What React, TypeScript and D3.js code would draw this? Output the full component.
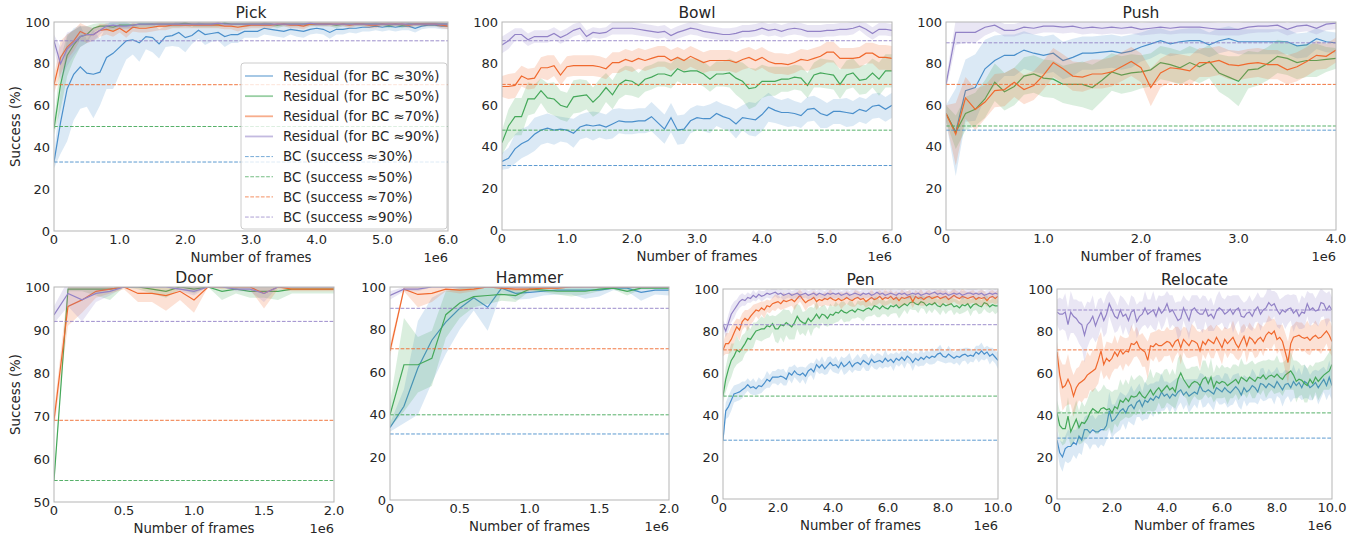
import React from "react";
import * as d3 from "d3";

// ---------------- DATA ----------------
const seriesLabels = [
  "Residual (for BC \u224830%)",
  "Residual (for BC \u224850%)",
  "Residual (for BC \u224870%)",
  "Residual (for BC \u224890%)",
];
const bcLabels = [
  "BC (success \u224830%)",
  "BC (success \u224850%)",
  "BC (success \u224870%)",
  "BC (success \u224890%)",
];

// Pick (0..6e6, step 1e5)
const pickBlue = [33,52,68,75,78.5,75.5,75,76,83,85,88,91,91.5,90,93,92.5,89.5,93,93.5,95,92.5,93.5,96,94,94.5,95,93,94,94,95.5,95.5,95.5,97,96.5,96,95.5,96.5,96,95.5,96.5,97,96.5,95,96.5,96.5,97,97,97.5,97.5,98,97.5,98,97.5,98,98,97,98,98.5,98.5,98,98];
const pickBlueStd = [3,15,25,22,20,16,21,16,15,17,13,9,7,9,6,7,7,5,5,7,7,4,4,5,4,4,5,4,4,3,3,3,3,3,3,3,2.5,3,3,2.5,2.5,2.5,3,2.5,2.5,2,2.5,2,2,2,2,2,2,2,2,2,1.5,1.5,1.5,1.5,1.5];
const pickGreen = [49,70,84,89,93,94,97,98,98,97.5,98.5,98.5,98.5,99,99,99,99,99,99,99,99.5,99,99,99,99,99,99.5,99,99,99,99,99,99,99,98.5,99,99,99,99,99,99,99,99,98.5,99,99,99,99,99,99,99,98.5,99,98.5,99,99,99,99,99,99,99];
const pickGreenStd = [3,12,10,7,5,4,2,1.5,1.5,2,1.5,1.5,1.5,1.5,1.5,1.5,1.5,1.5,1.5,1.5,1.5,1.5,1.5,1.5,1.5,1.5,1.5,1.5,1.5,1.5,1,1,1,1,1.5,1,1,1,1,1,1,1,1,1.5,1,1,1,1,1,1,1,1.5,1,1.5,1,1,1,1,1,1,1];
const pickOrange = [70,83,88,91,95.5,94,94,96,96.5,95.5,97,95,97.5,97,97,97.5,98,98,98.5,98.5,98.5,98.5,98.5,98.5,98.5,98.5,98,98,97.5,98,98.5,98.5,98.5,98.5,99,99,98.5,98.5,98,99,99,99,99,99,99,98.5,99,99,98.5,98.5,99,99,99,99,98.5,99,99,99,99,98.5,98];
const pickOrangeStd = [4,8,6,5,4,4,3,3,2.5,2.5,2,2.5,2,2,2,2,2,2,1.5,1.5,1.5,1.5,1.5,1.5,1.5,1.5,1.5,1.5,2,1.5,1.5,1.5,1.5,1.5,1,1,1.5,1.5,1.5,1,1,1,1,1,1,1.5,1,1,1.5,1.5,1,1,1,1,1.5,1,1,1,1,1.5,1.5];
const pickPurple = [91,80,87,90,93,94,94,96,98,98.5,98,98,98.5,99,99,99,99,99,99,99,99,99,99,99,99,99.5,99,99,99,99,99,99,99,99,99,99,99,99,99,99.5,99,99,99,99,99,99,99,99,99,99,99,99,99,99,99,99,99,99,99,99,99];
const pickPurpleStd = [3,8,8,6,5,4,3,2,1.5,1.5,1.5,1.5,1.5,1,1,1,1,1,1,1,1,1,1,1,1,1,1,1,1,1,1,1,1,1,1,1,1,1,1,1,1,1,1,1,1,1,1,1,1,1,1,1,1,1,1,1,1,1,1,1,1];
const pickBC = [33, 50, 70, 91];

// Bowl (0..6e6, step 1e5)
const bowlBlue = [33,34.5,39,41.5,43,46,48,49,48,48.5,48,46.5,49.5,50.5,50,50.5,49.5,51,52.5,52,52,52.5,52.5,54.5,51.5,48.5,54,48,48.5,52.5,54,53.5,53.5,56,54.5,53.5,51,54,53.5,53,55.5,59,57.5,56.5,56.5,56,55,58,58.5,56,55,57,57,56.5,56,58,57,59.5,60,58,60];
const bowlBlueStd = [4,5,7,7,7,8,7,7,7,6,6,7,6,6,7,6,6,7,6,6,6,6,6,7,7,7,7,7,7,6,6,6,7,6,6,6,7,6,8,8,8,7,6,6,7,6,6,6,6,7,6,6,6,7,6,6,6,6,6,6,6];
const bowlGreen = [42,50,54.5,54.5,63,63,67,63.5,63,60,59,64,64.5,65,61.5,64.5,68.5,65,70,72,71.5,69.5,72.5,73.5,75,75,74,77.5,76,76.5,76.5,75,72.5,75,75,75.5,73,71.5,68,68.5,71.5,71.5,71.5,72.5,72.5,73.5,73,69.5,74.5,75.5,75,74.5,70,74.5,75.5,72,72.5,75.5,72.5,76.5,76.5];
const bowlGreenStd = [6,8,9,9,8,7,6,7,8,7,7,8,8,7,7,8,7,7,7,7,7,6,6,6,6,6,6,6,6,6,6,6,6,6,6,7,8,9,10,9,8,7,7,6,6,6,6,6,6,7,7,7,7,7,7,7,7,7,8,8,8];
const bowlOrange = [69,69,69.5,74,72.5,73,78,78,79,74.5,78.5,79,79,79,79,78.5,77.5,80.5,80.5,82,81,82.5,81.5,82.5,83.5,83.5,81.5,83,81.5,83.5,82,80.5,81.5,81.5,81.5,81.5,80.5,82,83,81.5,83,81,80,80,79.5,80.5,82,81.5,82.5,83.5,85.5,85.5,82.5,82.5,82.5,83,85,85,83,83,82.5];
const bowlOrangeStd = [5,6,6,5,5,5,5,6,5,5,5,5,5,5,5,5,5,5,5,5,5,5,5,5,5,5,5,5,5,5,5,5,5,5,5,5,5,5,5,5,5,5,5,5,5,5,5,5,5,5,5,5,5,5,5,5,5,5,6,6,6];
const bowlPurple = [89,91,94,94,91.5,93,93,93,94.5,92.5,94,96,97,93,95,94.5,95,97,97,97,97,96.5,96,95.5,95,95.5,93.5,95,96,97,96.5,95.5,95,94.5,94,94,94.5,95.5,95.5,96,97,96,96.5,95.5,96.5,97,96.5,95.5,95.5,95.5,96,96,96.5,96.5,97,98,96.5,94.5,96.5,96.5,96];
const bowlPurpleStd = [4,4,3,3,3,3,3,3,3,3,3,3,3,3,2.5,2.5,2.5,3,3,3,3,3,3,3,3,3,3,3,3,3,3,3,3,3,3,3,3,3,3,3,3,3,3,3,3,3,3,3,3,3,3,3,3,3,3,2,3,3,3,3,3];
const bowlBC = [31, 48, 70, 91];

// Push (0..4e6, step 1e5)
const pushBlue = [56,47,67,68.5,77.5,81.5,84,84,86.5,85,84,85,81.5,83,85,85,85.5,86,85,86,88,89.5,91,89.5,90.5,91,91,89,91,92,90.5,90.5,90.5,90.5,90.5,90.5,88.5,89,92,90.5,90];
const pushBlueStd = [4,21,15,16,14,12,10,10,9,9,9,9,9,9,8,8,8,8,8,8,7,7,6,6,6,6,6,6,6,6,6,6,6,6,6,6,6,6,5,5,5];
const pushGreen = [56,47,56,58,63,71,66.5,69,74,75,73,72.5,70,70,70,68.5,72,76,74.5,75.5,76,77,80.5,79.5,78,80.5,78.5,81,75.5,73.5,71.5,77,77.5,80,83.5,82.5,80.5,81.5,81.5,82,82.5];
const pushGreenStd = [4,8,8,8,9,9,9,9,9,9,9,9,9,10,11,11,10,9,9,9,8,8,8,8,8,8,8,8,9,10,12,9,8,8,8,8,8,8,8,6,5];
const pushOrange = [56,46,63.5,58,61.5,67,67.5,71,67.5,69.5,74.5,80.5,77.5,74,73.5,75,75,76,78.5,81,78,68.5,75.5,78,77.5,76.5,80.5,80.5,81.5,79.5,79,80,80.5,79.5,79.5,77,78.5,81,84,83.5,86.5];
const pushOrangeStd = [4,15,10,10,8,8,8,7,7,7,7,7,7,7,7,7,7,7,7,7,7,9,7,7,7,7,7,7,7,7,7,7,7,7,7,7,7,7,7,6,6];
const pushPurple = [70,95,95,95,97.5,98.5,96,96,97.5,97,98,98,97.5,98,97,97.5,97,97.5,97,97.5,96.5,97,97.5,97,97.5,97.5,97.5,97,96.5,96.5,96.5,97.5,98,98,98.5,96.5,98,98.5,97,99,99.5];
const pushPurpleStd = [3,6,5,5,4,3,3,3,3,3,3,3,3,3,3,3,3,3,3,3,3,3,3,3,3,3,3,3,3,3,3,3,3,3,3,3,3,3,3,3,3];
const pushBC = [48, 50, 70, 90];

// Door (0..2e6, step 1e5)
const doorGreen = [55,99.5,99.5,99.5,99.5,100,100,99.5,99,100,99.5,100,99,99.5,99,99,99,99.5,99.5,99.5,99.5];
const doorGreenStd = [1,0.5,0.5,1.5,2.5,0,0.5,1,1.5,0.5,1,0,2,1,1.5,1.5,2,1,1,1,1];
const doorOrange = [69,95.5,97,99,99.5,100,98.5,98.5,98,99,97,100,100,100,100,98.5,100,99.5,99.5,99.5,99.5];
const doorOrangeStd = [2,4.5,3,1.5,1,0.5,2,2,3.5,2,3,0,0.5,0.5,0.5,3.5,0.5,0.5,0.5,0.5,0.5];
const doorPurple = [93.5,98.5,97,98.5,99,100,100,100,100,99.5,99,100,100,99.5,99.5,98.5,100,100,100,100,100];
const doorPurpleStd = [2,3,5,2,1,0,0,0,0,0.5,1,0,0,0.5,0.5,2,0,0,0,0,0];
const doorBC = [null, 55, 69, 92];

// Hammer (0..2e6, step 1e5)
const hammerBlue = [34,44,62,75,83.5,90,95,90.5,99.5,97,97.5,98,98.5,98.5,98.5,98.5,99.5,99.5,97.5,98.5,98.5];
const hammerBlueStd = [2,8,22,20,15,10,6,11,2,3,3,2,2,2,4,3,1,1.5,4,2,2.5];
const hammerGreen = [40,63.5,63.5,66.5,87,92.5,95.5,96,96.5,96,99,98.5,98,98,98,99,99.5,98,99.5,99.5,99.5];
const hammerGreenStd = [6,22,13,13,11,7,5,4,3,3,1,1,1.5,2.5,1.5,1,0.5,2,0.5,0.5,0.5];
const hammerOrange = [70,99,96.5,97,99,98.5,99,100,99.5,99,99,99.5,99.5,100,100,100,100,100,100,100,100];
const hammerOrangeStd = [3,1,6,4,1,1.5,1,0,0.5,1,1,0.5,0.5,0,0,0,0,0,0,0,0];
const hammerPurple = [96,99,99,100,100,100,100,100,100,100,100,100,100,100,100,100,100,100,100,100,100];
const hammerPurpleStd = [2,1,1,0,0,0,0,0,0,0,0,0,0,0,0,0,0,0,0,0,0];
const hammerBC = [31, 40, 71, 90];

// Pen (0..10e6, step 1e5)
const penBlue = [28,42,44,47,50,50.5,51,52,53,54.5,53,53.5,52.5,54,53.5,55,57,56,58,58,58,58.5,58,57,60,59,61,59.5,59,60,58.5,61,62,60.5,64,62.5,64,62,63.5,65,63.5,64,62.5,65,63,64,65.5,63,64.5,65,64,66,65,64,66.5,65,65.5,66,65,67,65.5,66.5,65,67,66,67.5,66,68,67,65,67,66,67.5,66.5,68,67,68,67.5,69,69.5,68,67.5,69,68,67,68,67.5,68.5,69,68,68.5,68,70,69,70.5,69,70,68,69,67.5,66];
const penBlueStd = [2,4,5,5,4,4,4,4,3,3,3,4,3,4,3,3,4,3,3,3,4,3,4,3,3,4,3,3,4,3,4,3,3,4,3,3,4,3,4,3,3,4,3,3,4,4,4,3,3,4,3,3,4,3,3,3,4,3,3,4,3,3,4,3,3,3,4,3,3,4,3,3,4,3,3,3,4,3,3,4,3,3,4,3,3,3,4,3,3,4,3,3,3,4,4,3,3,4,3,3,4];
const penGreen = [49,57,62,66,68,71,70,72,74,76.5,76,78,80,80.5,81,81,82.5,82,83.5,81,81,83,82.5,84,83,82,84,87,85,84,83.5,86,84.5,86,88,86,88,87.5,86,88,87.5,89,88.5,90,89,88.5,89.5,90,89,90.5,90,89.5,90.5,91,90,92,91.5,90.5,92,91,90.5,92,91.5,92.5,91,92,93,92,93.5,94,93,92.5,94,93.5,92,93,92.5,93.5,92,91.5,93,92,92.5,93,91.5,92,91,92.5,92,93,91,92.5,93,92,91.5,93.5,93,91.5,92.5,92,92];
const penGreenStd = [3,6,7,8,6,7,5,6,5,6,5,6,4,5,6,5,6,5,4,6,7,6,8,6,7,6,8,6,7,5,6,5,7,5,6,5,4,5,4,5,4,5,4,4,5,4,5,4,3,4,4,5,4,4,3,4,5,4,4,3,4,4,3,4,5,4,3,4,3,4,3,4,3,3,4,3,4,3,3,4,3,4,3,3,4,3,3,4,3,3,4,3,3,4,3,3,4,3,3,4,3];
const penOrange = [71,74,74,76,79,82,80.5,84.5,86,85,87,88.5,90,89.5,91,90,92,91.5,93,93.5,94,93,94.5,94,94.5,95,94,95.5,97,95,93.5,94.5,95,96,94,95,94.5,95.5,95,96,95,94.5,95.5,94.5,95,96,95,94.5,95.5,96,95,95.5,94,95,96,95,95.5,96.5,95,96,95.5,96.5,95,96,94.5,96,95.5,96,96.5,94,96.5,95.5,96,95,96,96.5,95.5,96,96.5,95.5,96,96.5,95,96,97,96,95.5,96.5,96,95.5,96,96.5,95,96,95.5,96,94.5,96,96.5,95.5,96.5];
const penOrangeStd = [3,5,5,6,5,4,5,4,4,5,4,4,3,4,3,4,3,3,3,4,3,3,4,3,3,3,4,3,3,3,4,3,3,3,4,3,3,3,3,4,3,3,3,4,3,3,3,3,4,3,3,3,3,3,4,3,3,3,3,4,3,3,3,3,3,4,3,3,3,3,3,3,4,3,3,3,3,3,3,4,3,3,3,3,3,3,3,4,3,3,3,3,3,3,4,3,3,3,3,3,3];
const penPurple = [83,80,84,88,90,92,94,95,94.5,96,95.5,97,96,97.5,96.5,97,98,97.5,98,98.5,97.5,98,97,97.5,98,97,97.5,98,97,97.5,98,97,97.5,98,97,98,97.5,97,98,97.5,98,97.5,98,97,97.5,98,97,97.5,98,97.5,97,98,97.5,98,97,97.5,98.5,97.5,98,97,97.5,98,97.5,97,98,97.5,98,97,97.5,98,97.5,98,97,97.5,98,97.5,98,98.5,97.5,98,97.5,98,97,97.5,98,97.5,98,97,97.5,98,98,97.5,98,97.5,98,97,97.5,98,97.5,98,97.5];
const penPurpleStd = [2,3,4,4,4,3,3,3,2.5,2.5,2,2.5,2,2,2.5,2,2,2,2.5,2,2,2,2.5,2,2,2,2,2.5,2,2,2,2,2,2.5,2,2,2,2,2,2,2.5,2,2,2,2,2,2,2.5,2,2,2,2,2,2,2,2.5,2,2,2,2,2,2,2,2.5,2,2,2,2,2,2,2,2,2.5,2,2,2,2,2,2,2,2,2.5,2,2,2,2,2,2,2,2,2,2.5,2,2,2,2,2,2,2,2,2];
const penBC = [28, 49, 71, 83];

// Relocate (0..10e6, step 1e5)
const relBlue = [28,22,20,24,25,25,27,26,30,28,33,33,31.5,33,32,32,33,33,35,42,37,38,40,42,43,41,44,45,43,46,47,44,47,46,48,47,49,48,51,49,50,48,50,49,51,52,49.5,51,49,50,51,50,54,51.5,51,52,51,50,53,52,51,53,51.5,50.5,52,53.5,52,49.5,53,51,52,54,53,51,55,54.5,53,55,54,53,56,54,52,54.5,55,53,56,54,55.5,53,56,55,53,54,55.5,53,55,57,54,58,54];
const relBlueStd = [5,6,7,6,8,7,6,7,8,7,6,7,8,7,6,8,7,8,7,9,8,7,8,9,7,8,7,9,8,7,8,7,9,8,7,8,7,8,9,7,6,7,6,8,7,6,7,6,8,7,6,7,6,8,7,6,7,8,6,7,6,7,8,6,7,6,8,7,6,7,6,8,7,6,7,8,6,7,6,8,7,6,8,7,6,7,8,6,7,6,8,7,6,7,6,8,7,6,7,8,7];
const relGreen = [41,35,33.5,33.5,39.5,32,35,38,34,36.5,36,38,41,43,42,41,43,43.5,42.5,43,41,44,43,47,46,48,46.5,49,48.5,49,51,49,48,50,52,49.5,51.5,53,51,52.5,54,52,53,51,57,60,57,55,53,55,56,55.5,54,57,58,55,58,53,56,55,56,55.5,54,55,56,57,55,58,57,56,58,57,56,58,57.5,59,57,58.5,59,58,59.5,58,57,59,60,61,59,56,57,56.5,55,54,57,55,58,56,57.5,59,60,61,64];
const relGreenStd = [6,7,8,7,9,7,8,9,8,10,8,9,10,9,11,10,9,11,10,9,10,8,9,10,8,9,8,10,8,9,8,9,7,8,10,8,9,7,8,9,8,7,9,8,10,9,8,7,9,8,7,8,7,9,8,7,9,7,8,7,8,7,9,7,8,7,8,9,7,8,7,9,8,7,8,7,9,8,7,8,9,7,8,7,8,9,7,10,8,7,9,8,7,8,7,9,8,7,8,9,10];
const relOrange = [70,59,53,54,57,54,49,53,55,56,57,59,60,61,62,66,70.5,64,67,65.5,67,70,68,71,69,70.5,70,74,73.5,75,72,71,70,66,73,72.5,74,73,73,74,75,74.5,72.5,75,76,72,76,74.5,73,75.5,75,74,70.5,75,73.5,76,75,74,77,74.5,72,76,74,75.5,77,74,72,75,77.5,73,77,76,74,76,77,75,78,79.5,78.5,80,76,77,75,70,65,74,77,77.5,78,77,76.5,77,75.5,77,78,76.5,77,78.5,80,78,75];
const relOrangeStd = [5,8,11,10,12,9,10,9,8,10,9,11,8,10,9,11,9,7,8,9,7,8,6,7,8,6,7,9,6,7,6,8,7,9,6,7,6,8,7,6,7,6,8,7,6,8,6,7,6,8,7,6,9,6,7,6,8,7,6,7,8,6,7,6,8,7,6,7,6,8,7,6,7,8,6,7,6,8,7,6,7,6,8,9,10,8,6,7,6,7,6,8,7,6,7,6,8,7,6,8,7];
const relPurple = [89,88,88,89,83,89,87,86,84,83,78,83,84.5,87,82.5,86,89,85,88,93,90,87,86,90,87,88,85,89,90,84.5,87,88,91,88,89,90,87,91,88.5,90,93,89,90,87.5,85,86,91,88,85,90,91,89,88,88,90.5,87,88,86,89.5,91,90,88,89,90.5,88,90,91,87,86.5,88.5,89,87,90,91.5,88,90,91,93.5,92,93,90,88,90,89,90.5,91,88.5,90,87,89,88.5,93,90,91,89.5,90,93.5,93,90,92,90];
const relPurpleStd = [6,8,7,9,8,10,8,9,10,11,13,11,9,10,8,9,7,8,9,6,7,8,6,7,9,6,7,8,6,8,7,6,8,7,6,9,7,6,8,7,6,8,7,6,9,8,6,7,9,7,6,8,7,9,6,7,8,6,7,8,6,7,8,6,9,7,6,8,7,6,8,7,6,7,8,6,7,9,7,6,8,7,6,8,7,6,9,7,6,8,7,6,8,7,6,8,7,6,8,7,6];
const relBC = [29, 41, 71, 90];

// x tick values (in units of 1e6)
const ticks6 = [0, 1, 2, 3, 4, 5, 6];
const ticks4 = [0, 1, 2, 3, 4];
const ticks2 = [0, 0.5, 1, 1.5, 2];
const ticks10 = [0, 2, 4, 6, 8, 10];
const yTicks100 = [0, 20, 40, 60, 80, 100];
const yTicksDoor = [50, 60, 70, 80, 90, 100];

// ---------------- STYLE ----------------
const COLORS = ["#4a8fcb", "#45a85a", "#f0692e", "#9282c6"];
const FONT = "DejaVu Sans, sans-serif";
const TXT = "#262626";

type S = { mean: number[]; std: number[] } | null;
type Spec = {
  title: string;
  box: [number, number, number, number];
  xMax: number;
  xTicks: number[];
  yMin: number;
  yTicks: number[];
  series: S[];
  bc: (number | null)[];
  yLabel?: boolean;
  legend?: boolean;
};

const STEP = 0.1;

const panels: Spec[] = [
  {
    title: "Pick", box: [54, 22, 448, 231], xMax: 6, xTicks: ticks6, yMin: 0, yTicks: yTicks100,
    series: [
      { mean: pickBlue, std: pickBlueStd },
      { mean: pickGreen, std: pickGreenStd },
      { mean: pickOrange, std: pickOrangeStd },
      { mean: pickPurple, std: pickPurpleStd },
    ],
    bc: pickBC, yLabel: true, legend: true,
  },
  {
    title: "Bowl", box: [502, 22, 892, 230], xMax: 6, xTicks: ticks6, yMin: 0, yTicks: yTicks100,
    series: [
      { mean: bowlBlue, std: bowlBlueStd },
      { mean: bowlGreen, std: bowlGreenStd },
      { mean: bowlOrange, std: bowlOrangeStd },
      { mean: bowlPurple, std: bowlPurpleStd },
    ],
    bc: bowlBC,
  },
  {
    title: "Push", box: [946, 22, 1336, 230], xMax: 4, xTicks: ticks4, yMin: 0, yTicks: yTicks100,
    series: [
      { mean: pushBlue, std: pushBlueStd },
      { mean: pushGreen, std: pushGreenStd },
      { mean: pushOrange, std: pushOrangeStd },
      { mean: pushPurple, std: pushPurpleStd },
    ],
    bc: pushBC,
  },
  {
    title: "Door", box: [54, 287, 334, 502], xMax: 2, xTicks: ticks2, yMin: 50, yTicks: yTicksDoor,
    series: [
      null,
      { mean: doorGreen, std: doorGreenStd },
      { mean: doorOrange, std: doorOrangeStd },
      { mean: doorPurple, std: doorPurpleStd },
    ],
    bc: doorBC, yLabel: true,
  },
  {
    title: "Hammer", box: [390, 287, 669, 500], xMax: 2, xTicks: ticks2, yMin: 0, yTicks: yTicks100,
    series: [
      { mean: hammerBlue, std: hammerBlueStd },
      { mean: hammerGreen, std: hammerGreenStd },
      { mean: hammerOrange, std: hammerOrangeStd },
      { mean: hammerPurple, std: hammerPurpleStd },
    ],
    bc: hammerBC,
  },
  {
    title: "Pen", box: [723, 289, 998, 499], xMax: 10, xTicks: ticks10, yMin: 0, yTicks: yTicks100,
    series: [
      { mean: penBlue, std: penBlueStd },
      { mean: penGreen, std: penGreenStd },
      { mean: penOrange, std: penOrangeStd },
      { mean: penPurple, std: penPurpleStd },
    ],
    bc: penBC,
  },
  {
    title: "Relocate", box: [1057, 289, 1332, 499], xMax: 10, xTicks: ticks10, yMin: 0, yTicks: yTicks100,
    series: [
      { mean: relBlue, std: relBlueStd },
      { mean: relGreen, std: relGreenStd },
      { mean: relOrange, std: relOrangeStd },
      { mean: relPurple, std: relPurpleStd },
    ],
    bc: relBC,
  },
];

function fmtX(v: number) {
  return v === 0 ? "0" : v.toFixed(1);
}

function Panel({ spec, idx }: { spec: Spec; idx: number }) {
  const [l, t, r, b] = spec.box;
  const x = d3.scaleLinear().domain([0, spec.xMax]).range([l, r]);
  const y = d3.scaleLinear().domain([spec.yMin, 100]).range([b, t]);
  const clipId = `clip-${idx}`;

  const area = (s: { mean: number[]; std: number[] }) =>
    d3
      .area<number>()
      .x((_, i) => x(i * STEP))
      .y0((d, i) => y(d - (s.std[i] ?? 0)))
      .y1((d, i) => y(d + (s.std[i] ?? 0)))(s.mean) || "";
  const line = (s: { mean: number[] }) =>
    d3
      .line<number>()
      .x((_, i) => x(i * STEP))
      .y((d) => y(d))(s.mean) || "";

  return (
    <g>
      <defs>
        <clipPath id={clipId}>
          <rect x={l} y={t} width={r - l} height={b - t} />
        </clipPath>
      </defs>
      <g clipPath={`url(#${clipId})`}>
        {spec.series.map((s, i) =>
          s ? (
            <g key={i}>
              <path d={area(s)} fill={COLORS[i]} fillOpacity={0.2} stroke="none" />
              <path d={line(s)} fill="none" stroke={COLORS[i]} strokeWidth={1.2} />
            </g>
          ) : null
        )}
        {spec.bc.map((v, i) =>
          v == null ? null : (
            <line
              key={"bc" + i}
              x1={x(0)}
              x2={x(spec.xMax)}
              y1={y(v)}
              y2={y(v)}
              stroke={COLORS[i]}
              strokeWidth={1}
              strokeDasharray="3.7,1.6"
              strokeOpacity={0.9}
            />
          )
        )}
      </g>
      <rect x={l} y={t} width={r - l} height={b - t} fill="none" stroke="#b5b5b5" strokeWidth={1} />
      {spec.xTicks.map((v) => (
        <text key={"xt" + v} x={x(v)} y={b + 13} textAnchor="middle" fontSize={13} fill={TXT} fontFamily={FONT}>
          {fmtX(v)}
        </text>
      ))}
      {spec.yTicks.map((v) => (
        <text key={"yt" + v} x={l - 4} y={y(v)} dy="0.36em" textAnchor="end" fontSize={13} fill={TXT} fontFamily={FONT}>
          {v}
        </text>
      ))}
      <text x={(l + r) / 2} y={t - 4} textAnchor="middle" fontSize={15.5} fill={TXT} fontFamily={FONT}>
        {spec.title}
      </text>
      <text x={(l + r) / 2} y={b + 31} textAnchor="middle" fontSize={13.3} fill={TXT} fontFamily={FONT}>
        Number of frames
      </text>
      <text x={r} y={b + 31} textAnchor="end" fontSize={13} fill={TXT} fontFamily={FONT}>
        1e6
      </text>
      {spec.yLabel && (
        <text
          transform={`translate(15,${(t + b) / 2}) rotate(-90)`}
          textAnchor="middle"
          dy="0.36em"
          fontSize={13.3}
          fill={TXT}
          fontFamily={FONT}
        >
          Success (%)
        </text>
      )}
      {spec.legend && <Legend />}
    </g>
  );
}

function Legend() {
  const lx = 241, ly = 63, lw = 206, lh = 166;
  const row0 = 76, rowStep = 20.15;
  const labels = [...seriesLabels, ...bcLabels];
  return (
    <g>
      <rect x={lx} y={ly} width={lw} height={lh} rx={3} fill="#fff" fillOpacity={0.8} stroke="#cccccc" strokeWidth={1} />
      {labels.map((lab, i) => {
        const cy = row0 + i * rowStep;
        const ci = i % 4;
        const isBC = i >= 4;
        return (
          <g key={lab}>
            <line
              x1={245}
              x2={273}
              y1={cy}
              y2={cy}
              stroke={COLORS[ci]}
              strokeWidth={isBC ? 1 : 1.8}
              strokeOpacity={isBC ? 0.75 : 0.55}
              strokeDasharray={isBC ? "3.7,1.6" : undefined}
            />
            <text x={283} y={cy} dy="0.36em" fontSize={13.3} fill={TXT} fontFamily={FONT}>
              {lab}
            </text>
          </g>
        );
      })}
    </g>
  );
}

export default function App() {
  return (
    <svg
      width={1362}
      height={537}
      style={{ position: "absolute", left: 0, top: 0, background: "#fff" }}
      xmlns="http://www.w3.org/2000/svg"
    >
      <rect x={0} y={0} width={1362} height={537} fill="#fff" />
      {panels.map((p, i) => (
        <Panel key={p.title} spec={p} idx={i} />
      ))}
    </svg>
  );
}
